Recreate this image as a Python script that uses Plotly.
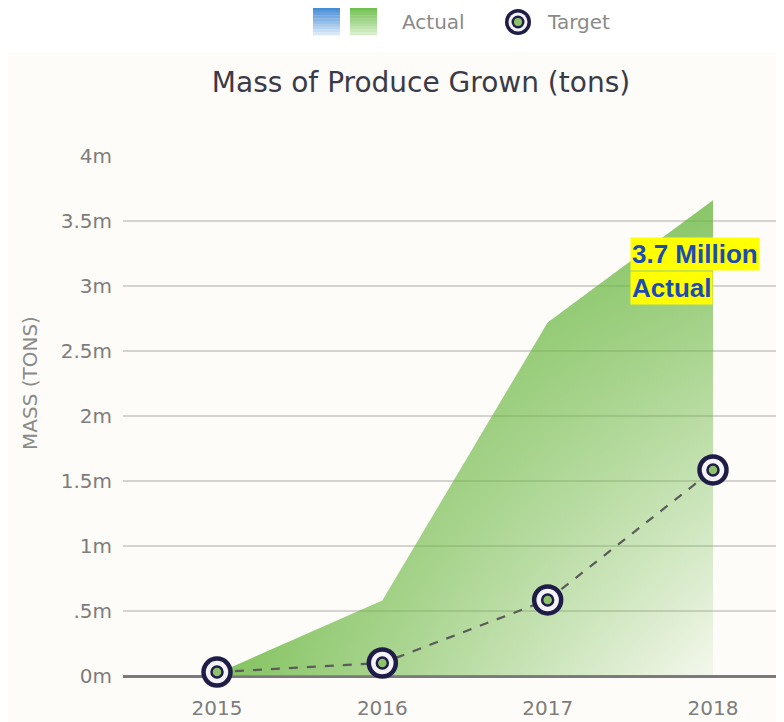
import plotly.graph_objects as go

# ---- data ----
years = [2015, 2016, 2017, 2018]
actual_m = [0.02, 0.58, 2.72, 3.66]      # millions of tons
target_m = [0.03, 0.10, 0.585, 1.585]    # millions of tons
y_tickvals = [0, 0.5, 1, 1.5, 2, 2.5, 3, 3.5, 4]
y_ticktext = ["0m", ".5m", "1m", "1.5m", "2m", "2.5m", "3m", "3.5m", "4m"]
x_ticktext = ["2015", "2016", "2017", "2018"]

OFF = 8  # page body margin in the browser
W_PX, H_PX = 784, 722
L, T = 123 - OFF, 156 - OFF
PW, PH = W_PX - L, 520

def px_x(p):
    return (p - OFF - L) / PW

def px_y(p):
    return (T + PH - (p - OFF)) / PH

GREEN = "104,182,62"
NAVY = "#1f1d47"
FONT = "DejaVu Sans"
STEP = 165.33  # pixels per year

fig = go.Figure()

# Actual area: vertical gradient layer
fig.add_trace(go.Scatter(
    x=years, y=actual_m, mode="lines", line=dict(width=0),
    fill="tozeroy",
    fillgradient=dict(type="vertical", start=0, stop=max(actual_m),
                      colorscale=[[0, f"rgba({GREEN},0.0)"], [1, f"rgba({GREEN},0.76)"]]),
    showlegend=False, hoverinfo="skip"))
# Actual area: horizontal gradient layer
fig.add_trace(go.Scatter(
    x=years, y=actual_m, mode="lines", line=dict(width=0),
    fill="tozeroy",
    fillgradient=dict(type="horizontal", start=years[0], stop=years[-1],
                      colorscale=[[0, f"rgba({GREEN},0.82)"], [1, f"rgba({GREEN},0.06)"]]),
    name="Actual", showlegend=False, hoverinfo="skip"))

# Target dashed line + outer ring
fig.add_trace(go.Scatter(
    x=years, y=target_m, mode="lines+markers",
    line=dict(color="#5b5b5b", width=2.2, dash="dash"),
    marker=dict(size=27, color="#f4f3f8", line=dict(color=NAVY, width=4.5)),
    cliponaxis=False, name="Target", showlegend=False))
# Target inner ring + green dot
fig.add_trace(go.Scatter(
    x=years, y=target_m, mode="markers",
    marker=dict(size=11, color="#8fc16a", line=dict(color=NAVY, width=2.5)),
    cliponaxis=False, showlegend=False, hoverinfo="skip"))

shapes = []
# white band at top
shapes.append(dict(type="rect", xref="paper", yref="paper",
                   x0=px_x(0), x1=px_x(W_PX + 20), y0=px_y(53), y1=px_y(-20),
                   fillcolor="#ffffff", line=dict(width=0), layer="below"))

# legend gradient squares
def grad_square(x0p, top_rgb, bot_rgb, n=10):
    y_top, y_bot = 7, 35
    h = (y_bot - y_top) / n
    for i in range(n):
        t = i / (n - 1)
        c = tuple(int(top_rgb[k] + (bot_rgb[k] - top_rgb[k]) * t) for k in range(3))
        shapes.append(dict(type="rect", xref="paper", yref="paper",
                           x0=px_x(x0p), x1=px_x(x0p + 27),
                           y0=px_y(y_top + (i + 1) * h + 0.3), y1=px_y(y_top + i * h),
                           fillcolor=f"rgb{c}", line=dict(width=0)))

grad_square(313, (70, 140, 215), (215, 232, 247))
grad_square(350, (112, 192, 80), (214, 238, 200))

# legend target icon
for r, col in [(13, NAVY), (9.5, "#f4f3f8"), (6.5, NAVY), (4, "#8fc16a")]:
    shapes.append(dict(type="circle", xref="paper", yref="paper",
                       xsizemode="pixel", ysizemode="pixel",
                       xanchor=px_x(518), yanchor=px_y(22),
                       x0=-r, x1=r, y0=-r, y1=r,
                       fillcolor=col, line=dict(width=0)))

annotations = [
    dict(text="Actual", xref="paper", yref="paper", x=px_x(400), y=px_y(22),
         xanchor="left", yanchor="middle", showarrow=False,
         font=dict(family=FONT, size=20, color="#8a8a8a")),
    dict(text="Target", xref="paper", yref="paper", x=px_x(545), y=px_y(22),
         xanchor="left", yanchor="middle", showarrow=False,
         font=dict(family=FONT, size=20, color="#8a8a8a")),
    dict(text="MASS (TONS)", xref="paper", yref="paper", x=px_x(30), y=px_y(383),
         xanchor="center", yanchor="middle", textangle=-90, showarrow=False,
         font=dict(family=FONT, size=20, color="#8a8a8a")),
    dict(text="<b>3.7 Million</b>", xref="paper", yref="paper", x=px_x(630), y=px_y(254),
         xanchor="left", yanchor="middle", showarrow=False, bgcolor="#ffff00",
         borderpad=1, font=dict(family="Liberation Sans", size=26, color="#1d4bb5")),
    dict(text="<b>Actual</b>", xref="paper", yref="paper", x=px_x(630), y=px_y(288),
         xanchor="left", yanchor="middle", showarrow=False, bgcolor="#ffff00",
         borderpad=1, font=dict(family="Liberation Sans", size=26, color="#1d4bb5")),
]

fig.update_layout(
    width=W_PX, height=H_PX,
    margin=dict(l=L, r=W_PX - L - PW, t=T, b=H_PX - T - PH),
    paper_bgcolor="#fdfcf8", plot_bgcolor="#fdfcf8",
    title=dict(text="Mass of Produce Grown (tons)", x=px_x(421), xref="paper",
               xanchor="center", y=1 - (82 - OFF) / H_PX, yanchor="middle",
               font=dict(family=FONT, size=28, color="#3a3a48")),
    shapes=shapes, annotations=annotations, showlegend=False,
)

fig.update_xaxes(
    range=[years[0] - 94 / STEP, years[0] + (PW - 94) / STEP],
    tickvals=years, ticktext=x_ticktext,
    showgrid=False, zeroline=False,
    showline=False, ticks="outside", ticklen=14, tickcolor="rgba(0,0,0,0)",
    tickfont=dict(family=FONT, size=20, color="#7d7d7d"),
)
fig.update_yaxes(
    range=[0, 4], tickvals=y_tickvals, ticktext=y_ticktext,
    showgrid=True, gridcolor="#d6d4d0", gridwidth=1.6,
    zeroline=True, zerolinecolor="#7a7a7a", zerolinewidth=3,
    ticks="outside", ticklen=6, tickcolor="rgba(0,0,0,0)",
    tickfont=dict(family=FONT, size=20, color="#7d7d7d"),
)

fig.write_html("out.html")
